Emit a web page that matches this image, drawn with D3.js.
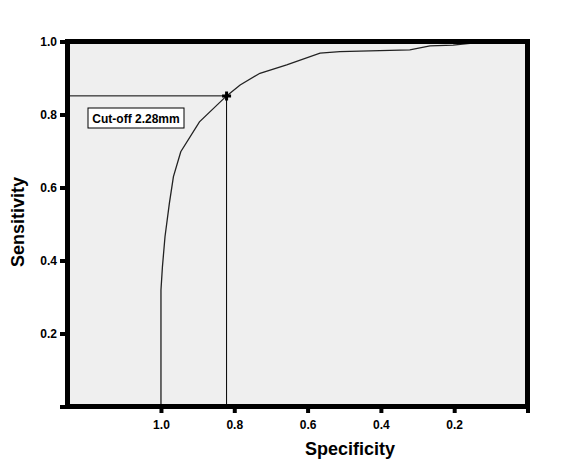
<!DOCTYPE html>
<html>
<head>
<meta charset="utf-8">
<script src="https://cdn.jsdelivr.net/npm/d3@7"></script>
<style>
  body { margin: 0; background: #fff; }
  text { font-family: "Liberation Sans", Arial, sans-serif; font-weight: bold; }
</style>
</head>
<body>
<svg id="roc"></svg>
<script>
// ROC curve points
const specificity = [1.0, 1.0, 0.996, 0.989, 0.977, 0.966, 0.946, 0.895, 0.821, 0.784, 0.730, 0.657, 0.566, 0.512, 0.321, 0.266, 0.203, 0.111, 0.0];
const sensitivity = [0.0, 0.319, 0.383, 0.465, 0.557, 0.630, 0.698, 0.780, 0.851, 0.881, 0.913, 0.936, 0.968, 0.972, 0.977, 0.988, 0.990, 1.0, 1.0];
const cutSpec = 0.821, cutSens = 0.851;
const cutLabel = "Cut-off 2.28mm";
const xTicks = [1.0, 0.8, 0.6, 0.4, 0.2, 0.0];
const yTicks = [0.0, 0.2, 0.4, 0.6, 0.8, 1.0];

const width = 577, height = 465;
const svg = d3.select("#roc").attr("width", width).attr("height", height);

const x = d3.scaleLinear().domain([1.255, 0]).range([67.5, 527.5]);
const y = d3.scaleLinear().domain([0, 1]).range([406.5, 41.5]);

// plot background
svg.append("rect")
  .attr("x", x(1.255)).attr("y", y(1))
  .attr("width", x(0) - x(1.255)).attr("height", y(0) - y(1))
  .attr("fill", "#efefef");

// reference lines to cut-off point
svg.append("line")
  .attr("x1", x(1.255)).attr("x2", x(cutSpec))
  .attr("y1", y(cutSens)).attr("y2", y(cutSens))
  .attr("stroke", "#000").attr("stroke-width", 1);
svg.append("line")
  .attr("x1", x(cutSpec)).attr("x2", x(cutSpec))
  .attr("y1", y(cutSens)).attr("y2", y(0))
  .attr("stroke", "#000").attr("stroke-width", 1);

// curve
const pts = specificity.map((s, i) => [s, sensitivity[i]]);
svg.append("path")
  .datum(pts)
  .attr("fill", "none")
  .attr("stroke", "#222")
  .attr("stroke-width", 1.3)
  .attr("d", d3.line().x(d => x(d[0])).y(d => y(d[1])));

// cut-off marker
svg.append("path")
  .attr("transform", `translate(${x(cutSpec)},${y(cutSens)})`)
  .attr("d", d3.symbol(d3.symbolCross, 45)())
  .attr("fill", "#000");

// label box
const lbl = svg.append("g").attr("transform", "translate(88,108)");
lbl.append("rect").attr("width", 96).attr("height", 20)
  .attr("fill", "#fff").attr("stroke", "#000").attr("stroke-width", 1);
lbl.append("text").attr("x", 48).attr("y", 14.5)
  .attr("text-anchor", "middle").attr("font-size", 12)
  .text(cutLabel);

// axes
const yAxis = svg.append("g")
  .attr("transform", `translate(${x(1.255) - 2.5},0)`)
  .call(d3.axisLeft(y).tickValues(yTicks).tickSize(5).tickPadding(3)
    .tickFormat(d => d === 0 ? "" : d3.format(".1f")(d)));
yAxis.select(".domain").remove();
yAxis.selectAll(".tick line").attr("stroke", "#000").attr("stroke-width", 4);
yAxis.selectAll(".tick text").attr("font-size", 12).attr("fill", "#000")
  .style("font-family", "'Liberation Sans', Arial, sans-serif").style("font-weight", "bold");

const xAxis = svg.append("g")
  .attr("transform", `translate(0,${y(0) + 2.5})`)
  .call(d3.axisBottom(x).tickValues(xTicks).tickSize(4).tickPadding(7)
    .tickFormat(d => d === 0 ? "" : d3.format(".1f")(d)));
xAxis.select(".domain").remove();
xAxis.selectAll(".tick line").attr("stroke", "#000").attr("stroke-width", 4);
xAxis.selectAll(".tick text").attr("font-size", 12).attr("fill", "#000")
  .style("font-family", "'Liberation Sans', Arial, sans-serif").style("font-weight", "bold");

// frame
svg.append("rect")
  .attr("x", x(1.255)).attr("y", y(1))
  .attr("width", x(0) - x(1.255)).attr("height", y(0) - y(1))
  .attr("fill", "none").attr("stroke", "#000").attr("stroke-width", 5);

// axis titles
svg.append("text")
  .attr("x", 350).attr("y", 455)
  .attr("text-anchor", "middle").attr("font-size", 18)
  .text("Specificity");
svg.append("text")
  .attr("transform", "translate(24,222) rotate(-90)")
  .attr("text-anchor", "middle").attr("font-size", 18)
  .text("Sensitivity");
</script>
</body>
</html>
